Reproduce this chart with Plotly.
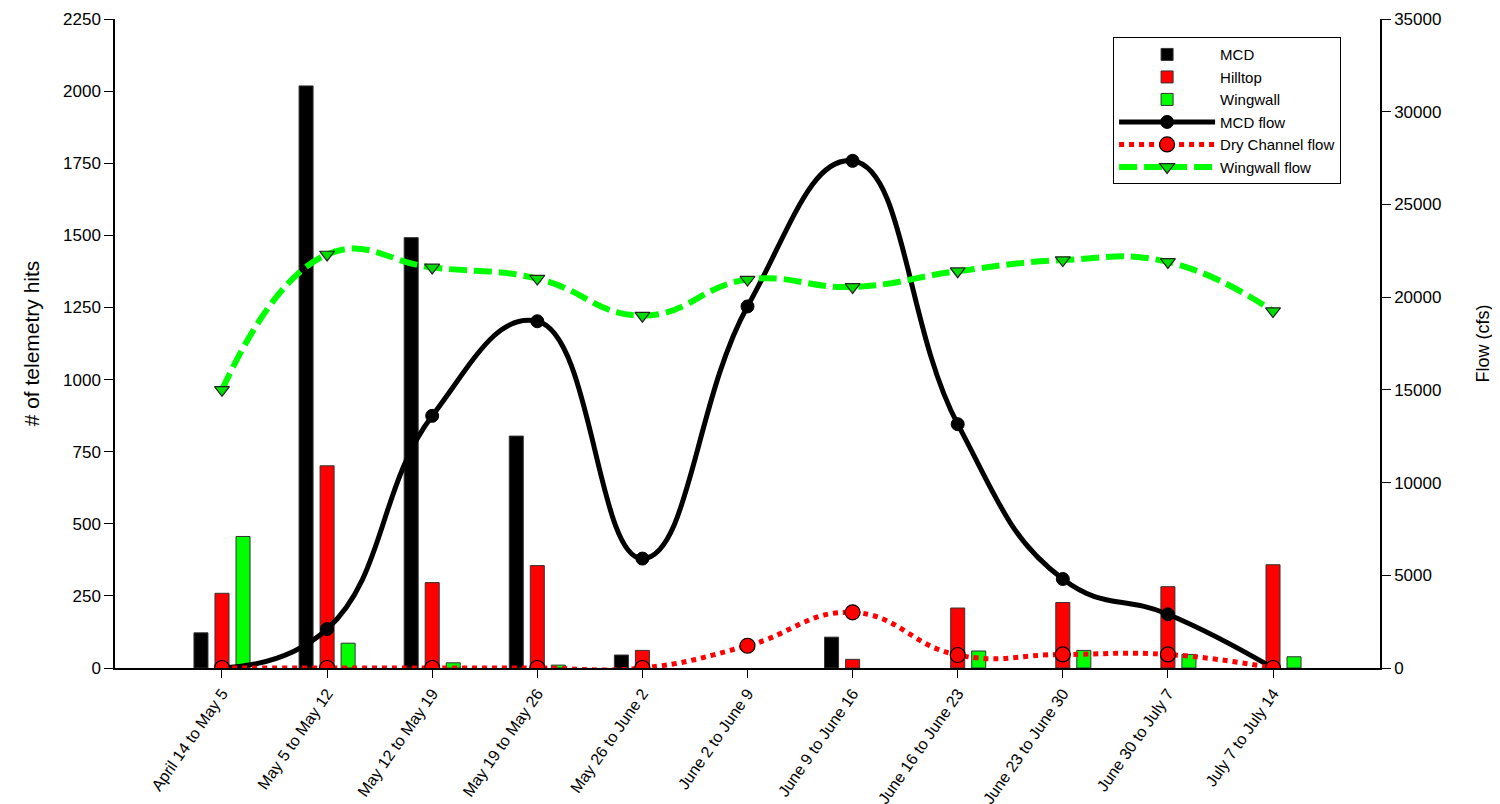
import plotly.graph_objects as go

categories = ["April 14 to May 5", "May 5 to May 12", "May 12 to May 19", "May 19 to May 26",
              "May 26 to June 2", "June 2 to June 9", "June 9 to June 16", "June 16 to June 23",
              "June 23 to June 30", "June 30 to July 7", "July 7 to July 14"]

mcd_hits = [122, 2018, 1492, 804, 45, None, 107, None, None, None, None]
hilltop_hits = [259, 701, 296, 355, 61, None, 30, 208, 227, 282, 358]
wingwall_hits = [456, 86, 18, 10, None, None, None, 59, 61, 47, 39]

mcd_flow = [0, 2100, 13600, 18700, 5900, 19500, 27350, 13150, 4800, 2900, 0]
dry_flow = [0, 0, 0, 0, 0, 1200, 3000, 700, 730, 730, 0]
wingwall_flow = [15000, 22300, 21600, 21000, 19000, 20950, 20550, 21400, 22000, 21900, 19250]

left_ticks = list(range(0, 2251, 250))
right_ticks = list(range(0, 35001, 5000))

fig = go.Figure()

bar_line = dict(color="#333333", width=1)
fig.add_trace(go.Bar(x=categories, y=mcd_hits, name="MCD", marker=dict(color="black", line=bar_line), yaxis="y"))
fig.add_trace(go.Bar(x=categories, y=hilltop_hits, name="Hilltop", marker=dict(color="#ff0000", line=bar_line), yaxis="y"))
fig.add_trace(go.Bar(x=categories, y=wingwall_hits, name="Wingwall", marker=dict(color="#00ff00", line=bar_line), yaxis="y"))

fig.add_trace(go.Scatter(x=categories, y=mcd_flow, name="MCD flow", mode="lines+markers", yaxis="y2",
                         line=dict(color="black", width=5, shape="spline", smoothing=1.3),
                         marker=dict(symbol="circle", size=13, color="black", line=dict(color="black", width=1))))
fig.add_trace(go.Scatter(x=categories, y=dry_flow, name="Dry Channel flow", mode="lines+markers", yaxis="y2",
                         line=dict(color="#ff0000", width=5, shape="spline", smoothing=1.3, dash="5px,5px"),
                         marker=dict(symbol="circle", size=15, color="#ff0000", line=dict(color="black", width=1.2))))
fig.add_trace(go.Scatter(x=categories, y=wingwall_flow, name="Wingwall flow", mode="lines+markers", yaxis="y2",
                         line=dict(color="#00ff00", width=6, shape="spline", smoothing=1.3, dash="18px,7px"),
                         marker=dict(symbol="triangle-down", size=13, color="#00dd00", line=dict(color="#222222", width=1.2))))

font_family = "Liberation Sans, Arial, sans-serif"

fig.update_layout(
    width=1500, height=804,
    margin=dict(l=107, r=128, t=11, b=144, autoexpand=False),
    paper_bgcolor="white", plot_bgcolor="white",
    font=dict(family=font_family, color="black", size=15),
    barmode="group", bargap=0.4, bargroupgap=0.333,
    showlegend=True,
    legend=dict(x=0.789, y=0.972, xanchor="left", yanchor="top",
                bordercolor="black", borderwidth=1, bgcolor="white",
                font=dict(size=15, family=font_family), traceorder="normal",
                itemwidth=96, tracegroupgap=0),
    xaxis=dict(type="category", range=[-1.018, 11.018], showline=True, linecolor="black", linewidth=2,
               ticks="outside", ticklen=8, tickcolor="black", tickangle=-55, automargin=False,
               tickfont=dict(size=16), showgrid=False, zeroline=False),
    yaxis=dict(range=[0, 2250], tickvals=left_ticks, showline=True, linecolor="black", linewidth=1.5,
               ticks="outside", ticklen=9, tickcolor="black", showgrid=False, zeroline=False,
               tickfont=dict(size=17), automargin=False, ticklabeloverflow="allow",
               title=dict(text="# of telemetry hits", font=dict(size=21), standoff=18)),
    yaxis2=dict(range=[0, 35000], tickvals=right_ticks, tickformat="d", overlaying="y", side="right", showline=True,
                linecolor="black", linewidth=1.5, ticks="outside", ticklen=9, tickcolor="black",
                showgrid=False, zeroline=False, tickfont=dict(size=17), automargin=False, ticklabeloverflow="allow",
                title=dict(text="Flow (cfs)", font=dict(size=18), standoff=36)),
)

fig.write_html("out.html")
